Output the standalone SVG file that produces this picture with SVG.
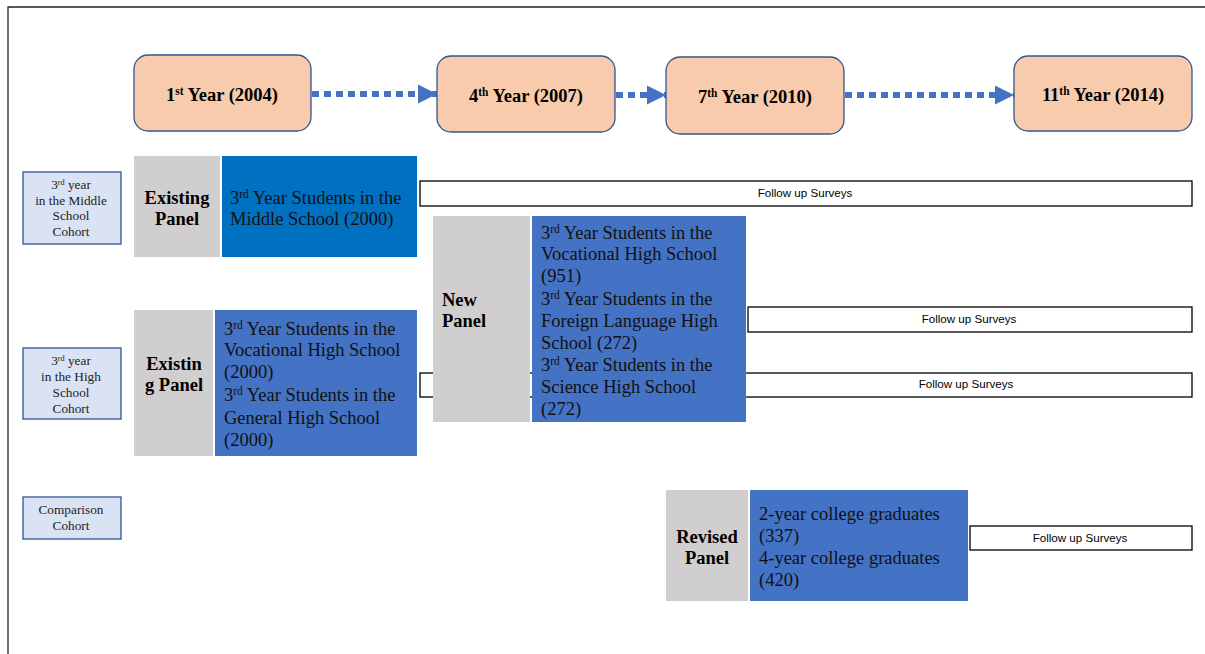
<svg xmlns="http://www.w3.org/2000/svg" width="1205" height="654" viewBox="0 0 1205 654">
  <style>
    .year { fill: #F8CBAD; stroke: #2F5597; stroke-width: 1.3; }
    .yt { font-family: "Liberation Serif", serif; font-weight: bold; font-size: 18.5px; fill: #000; text-anchor: middle; }
    .cohort { fill: #DAE3F3; stroke: #2F5597; stroke-width: 1.3; }
    .ct { font-family: "Liberation Serif", serif; font-size: 13.3px; fill: #222; text-anchor: middle; }
    .grey { fill: #D0CECE; }
    .blue { fill: #4472C4; }
    .blue2 { fill: #0070C0; }
    .pt { font-family: "Liberation Serif", serif; font-weight: bold; font-size: 18.5px; fill: #000; }
    .bt { font-family: "Liberation Serif", serif; font-size: 18.5px; fill: #111; }
    .fu { fill: #fff; stroke: #000; stroke-width: 1.3; }
    .ft { font-family: "Liberation Sans", sans-serif; font-size: 11.6px; fill: #000; text-anchor: middle; }
    .dot { stroke: #4472C4; stroke-width: 6; stroke-dasharray: 7 5; fill: none; }
    .sup { font-size: 0.62em; }
  </style>
  <defs>
    <marker id="head" viewBox="0 0 10 10" refX="10" refY="5" markerWidth="3.2" markerHeight="3.6" markerUnits="strokeWidth" orient="auto">
      <path d="M0,0 L10,5 L0,10 Z" fill="#4472C4"/>
    </marker>
  </defs>

  <!-- page frame -->
  <path d="M8,654 V7 H1205" fill="none" stroke="#222" stroke-width="1.3"/>

  <!-- timeline connectors -->
  <g id="connectors">
    <line class="dot" x1="312" y1="94" x2="437" y2="94" marker-end="url(#head)"/>
    <line class="dot" x1="616" y1="95" x2="666" y2="95" marker-end="url(#head)"/>
    <line class="dot" x1="845" y1="95" x2="1014" y2="95" marker-end="url(#head)"/>
  </g>

  <!-- year milestones -->
  <g id="year2004">
    <rect class="year" x="134" y="55" width="177" height="76" rx="14"/>
    <text class="yt" x="222" y="101">1<tspan class="sup" dy="-6">st</tspan><tspan dy="6"> Year (2004)</tspan></text>
  </g>
  <g id="year2007">
    <rect class="year" x="437" y="56" width="178" height="76" rx="14"/>
    <text class="yt" x="526" y="102">4<tspan class="sup" dy="-6">th</tspan><tspan dy="6"> Year (2007)</tspan></text>
  </g>
  <g id="year2010">
    <rect class="year" x="666" y="57" width="178" height="77" rx="14"/>
    <text class="yt" x="755" y="103">7<tspan class="sup" dy="-6">th</tspan><tspan dy="6">  Year (2010)</tspan></text>
  </g>
  <g id="year2014">
    <rect class="year" x="1014" y="56" width="178" height="75" rx="14"/>
    <text class="yt" x="1103" y="101">11<tspan class="sup" dy="-6">th</tspan><tspan dy="6">  Year (2014)</tspan></text>
  </g>

  <!-- cohort labels -->
  <g id="cohortMiddle">
    <rect class="cohort" x="23" y="172" width="98" height="72"/>
    <text class="ct" x="71" y="189">3<tspan class="sup" dy="-4">rd</tspan><tspan dy="4"> year</tspan></text>
    <text class="ct" x="71" y="205">in  the Middle</text>
    <text class="ct" x="71" y="220">School</text>
    <text class="ct" x="71" y="236">Cohort</text>
  </g>
  <g id="cohortHigh">
    <rect class="cohort" x="23" y="348" width="98" height="71"/>
    <text class="ct" x="71" y="365">3<tspan class="sup" dy="-4">rd</tspan><tspan dy="4"> year</tspan></text>
    <text class="ct" x="71" y="381">in  the High</text>
    <text class="ct" x="71" y="397">School</text>
    <text class="ct" x="71" y="413">Cohort</text>
  </g>
  <g id="cohortComparison">
    <rect class="cohort" x="23" y="497" width="98" height="42"/>
    <text class="ct" x="71" y="514">Comparison</text>
    <text class="ct" x="71" y="530">Cohort</text>
  </g>

  <!-- follow-up survey bars -->
  <g id="followup1">
    <rect class="fu" x="420" y="181" width="772" height="25"/>
    <text class="ft" x="805" y="197">Follow up Surveys</text>
  </g>
  <g id="followup3">
    <rect class="fu" x="420" y="373" width="772" height="24"/>
    <text class="ft" x="966" y="388">Follow up Surveys</text>
  </g>
  <g id="followup2">
    <rect class="fu" x="748" y="307" width="444" height="25"/>
    <text class="ft" x="969" y="323">Follow up Surveys</text>
  </g>
  <g id="followup4">
    <rect class="fu" x="970" y="526" width="222" height="24"/>
    <text class="ft" x="1080" y="542">Follow up Surveys</text>
  </g>

  <!-- existing panel, middle school -->
  <g id="existingMiddle">
    <rect class="grey" x="134" y="156" width="86" height="101"/>
    <text class="pt" x="177" y="204" text-anchor="middle">Existing</text>
    <text class="pt" x="177" y="225" text-anchor="middle">Panel</text>
    <rect class="blue2" x="222" y="156" width="195" height="101"/>
    <text class="bt" x="230" y="204">3<tspan class="sup" dy="-6">rd</tspan><tspan dy="6"> Year Students in the</tspan></text>
    <text class="bt" x="230" y="225">Middle School (2000)</text>
  </g>

  <!-- existing panel, high school -->
  <g id="existingHigh">
    <rect class="grey" x="134" y="310" width="79" height="146"/>
    <text class="pt" x="174" y="370" text-anchor="middle">Existin</text>
    <text class="pt" x="174" y="391" text-anchor="middle">g Panel</text>
    <rect class="blue" x="215" y="310" width="202" height="146"/>
    <text class="bt" x="224" y="335">3<tspan class="sup" dy="-6">rd</tspan><tspan dy="6"> Year Students in the</tspan></text>
    <text class="bt" x="224" y="356">Vocational High School</text>
    <text class="bt" x="224" y="378">(2000)</text>
    <text class="bt" x="224" y="401">3<tspan class="sup" dy="-6">rd</tspan><tspan dy="6"> Year Students in the</tspan></text>
    <text class="bt" x="224" y="424">General High School</text>
    <text class="bt" x="224" y="446">(2000)</text>
  </g>

  <!-- new panel -->
  <g id="newPanel">
    <rect class="grey" x="433" y="216" width="97" height="206"/>
    <text class="pt" x="442" y="306">New</text>
    <text class="pt" x="442" y="327">Panel</text>
    <rect class="blue" x="532" y="216" width="214" height="206"/>
    <text class="bt" x="541" y="239">3<tspan class="sup" dy="-6">rd</tspan><tspan dy="6"> Year Students in the</tspan></text>
    <text class="bt" x="541" y="260">Vocational High School</text>
    <text class="bt" x="541" y="282">(951)</text>
    <text class="bt" x="541" y="305">3<tspan class="sup" dy="-6">rd</tspan><tspan dy="6"> Year Students in the</tspan></text>
    <text class="bt" x="541" y="327">Foreign Language High</text>
    <text class="bt" x="541" y="349">School (272)</text>
    <text class="bt" x="541" y="371">3<tspan class="sup" dy="-6">rd</tspan><tspan dy="6"> Year Students in the</tspan></text>
    <text class="bt" x="541" y="393">Science High School</text>
    <text class="bt" x="541" y="415">(272)</text>
  </g>

  <!-- revised panel -->
  <g id="revisedPanel">
    <rect class="grey" x="666" y="490" width="82" height="111"/>
    <text class="pt" x="707" y="543" text-anchor="middle">Revised</text>
    <text class="pt" x="707" y="564" text-anchor="middle">Panel</text>
    <rect class="blue" x="750" y="490" width="218" height="111"/>
    <text class="bt" x="759" y="520">2-year college graduates</text>
    <text class="bt" x="759" y="542">(337)</text>
    <text class="bt" x="759" y="564">4-year college graduates</text>
    <text class="bt" x="759" y="586">(420)</text>
  </g>
</svg>
